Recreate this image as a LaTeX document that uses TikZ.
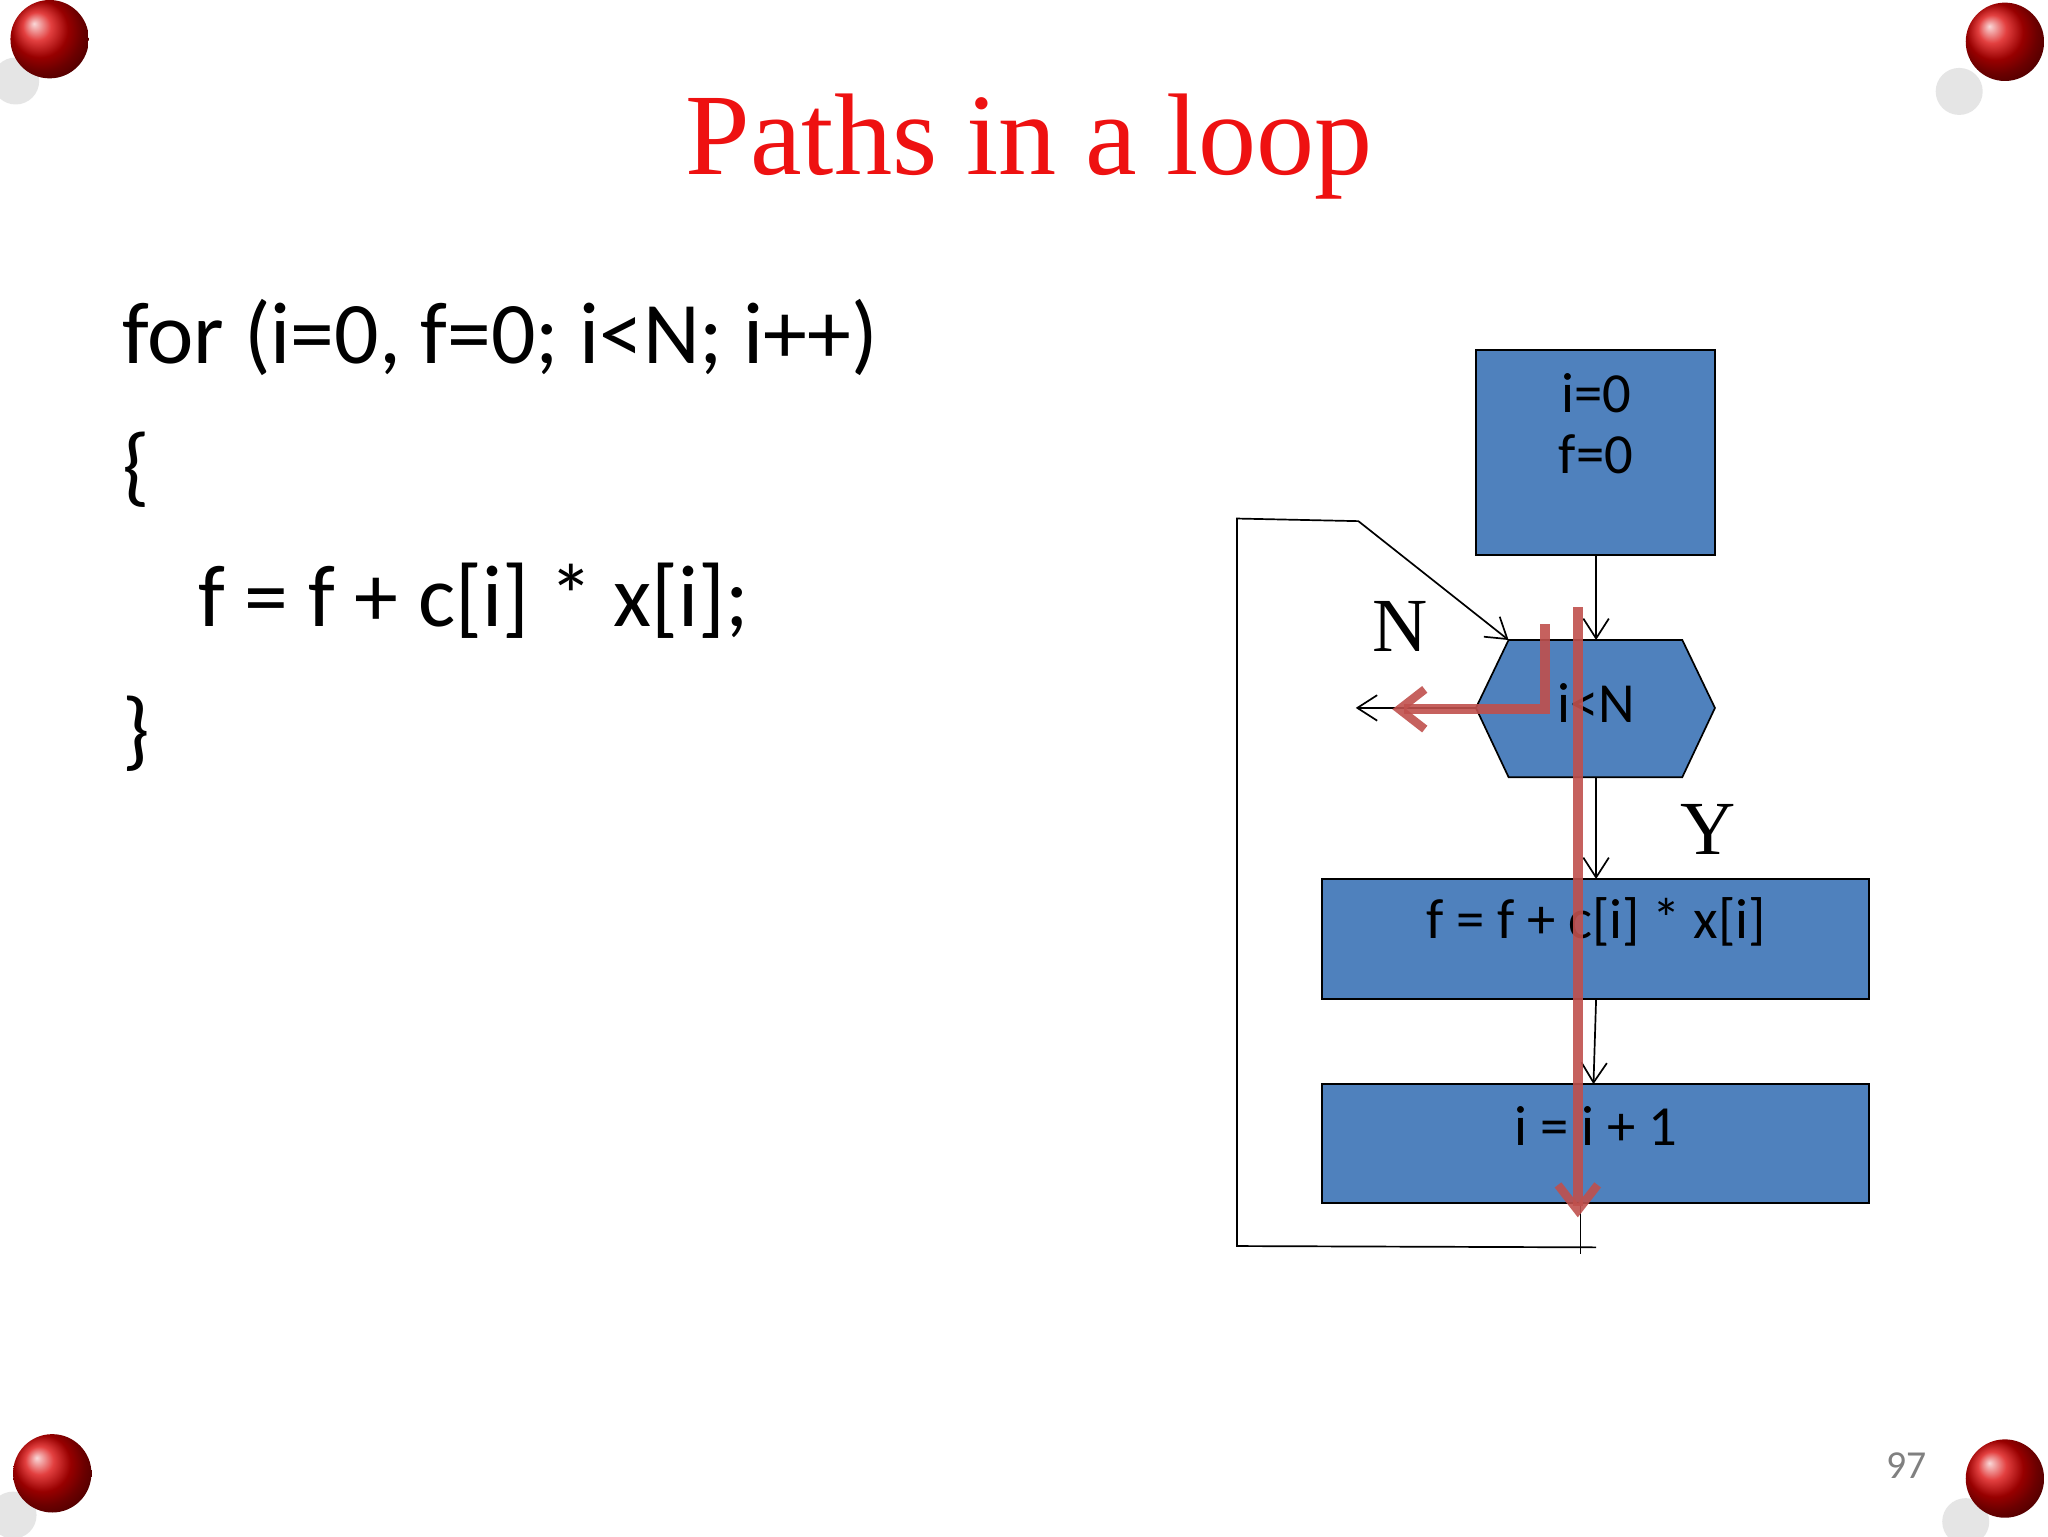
\documentclass[tikz,border=0pt]{standalone}
\usepackage{fontspec}
\setmainfont{Carlito}
\newfontfamily\serifx{Liberation Serif}
\usetikzlibrary{arrows.meta}
\definecolor{boxblue}{HTML}{4F81BD}
\definecolor{pathred}{HTML}{C0504D}
\definecolor{titlered}{HTML}{EE1111}
\begin{document}
\begin{tikzpicture}[x=0.0162cm,y=-0.0162cm,
  blk/.style={draw=black,fill=boxblue,line width=0.6pt},
  thin/.style={draw=black,line width=0.6pt},
  arr/.style={thin,-{Straight Barb[length=7pt,width=9pt]}},
  redp/.style={draw=pathred,line width=3.5pt,-{Straight Barb[length=9pt,width=14pt,line width=3pt]}},
  pin/.style={ball color=red!85!black,draw=none}]
\useasboundingbox (0,0) rectangle (1568,1176);
\fill[white] (0,0) rectangle (1568,1176);
% pins
\foreach \p/\q in {{(38,30)}/{(12,62)},{(1535,32)}/{(1500,70)},{(40,1128)}/{(10,1160)},{(1535,1132)}/{(1505,1165)}}{
  \fill[gray!40,opacity=0.5] \q circle (18);
  \shade[pin] \p circle (30);
}
\node[text=titlered,font=\serifx\fontsize{41}{48}\selectfont] (title) at (788,112) {Paths in a loop};
\begin{scope}[every node/.style={anchor=west,font=\fontsize{31}{38}\selectfont}]
\node (c1) at (86,258) {for (i=0, f=0; i<N; i++)};
\node (c2) at (86,360) {\{};
\node (c3) at (144,460) {f = f + c[i] * x[i];};
\node (c4) at (86,562) {\}};
\end{scope}
\begin{scope}[every node/.style={font=\fontsize{20}{26}\selectfont}]
\draw[blk] (1130,268) rectangle (1313,425);
\node (b1a) at (1222,301) {i=0};
\node (b1b) at (1222,348) {f=0};
\draw[blk] (1155,490) -- (1288,490) -- (1313,542) -- (1288,595) -- (1155,595) -- (1130,542) -- cycle;
\node (hex) at (1222,538) {i<N};
\draw[blk] (1012,673) rectangle (1431,765);
\node (b3) at (1222,706) {f = f + c[i] * x[i]};
\draw[blk] (1012,830) rectangle (1431,921);
\node (b4) at (1222,862) {i = i + 1};
\end{scope}
\coordinate (h1) at (1222,425); \coordinate (h2) at (1222,490);
\coordinate (h3) at (1222,595); \coordinate (h4) at (1222,673);
\coordinate (h5) at (1222,765); \coordinate (h6) at (1220,830);
\coordinate (hl) at (1130,542); \coordinate (ex) at (1038,542);
\draw[arr] (h1) -- (h2);
\draw[arr] (h3) -- (h4);
\draw[arr] (h5) -- (h6);
\draw[arr] (hl) -- (ex);
\coordinate (l0) at (1210,921); \coordinate (l1) at (1210,960);
\coordinate (l2) at (1222,955); \coordinate (l3) at (947,954);
\coordinate (l4) at (947,397); \coordinate (l5) at (1040,399);
\coordinate (l6) at (1155,490);
\draw[thin] (l0) -- (l1);
\draw[arr] (l2) -- (l3) -- (l4) -- (l5) -- (l6);
\node[font=\serifx\fontsize{27}{32}\selectfont] (N) at (1072,480) {N};
\node[font=\serifx\fontsize{27}{32}\selectfont] (Y) at (1308,635) {Y};
\coordinate (r1) at (1183,478); \coordinate (r2) at (1183,543); \coordinate (r3) at (1066,543);
\draw[redp,opacity=0.9] (r1) -- (r2) -- (r3);
\coordinate (r4) at (1208,465); \coordinate (r5) at (1208,932);
\draw[redp,opacity=0.9] (r4) -- (r5);
\node[text=gray,font=\fontsize{14}{16}\selectfont] (pg) at (1460,1122) {97};
\end{tikzpicture}
\end{document}
